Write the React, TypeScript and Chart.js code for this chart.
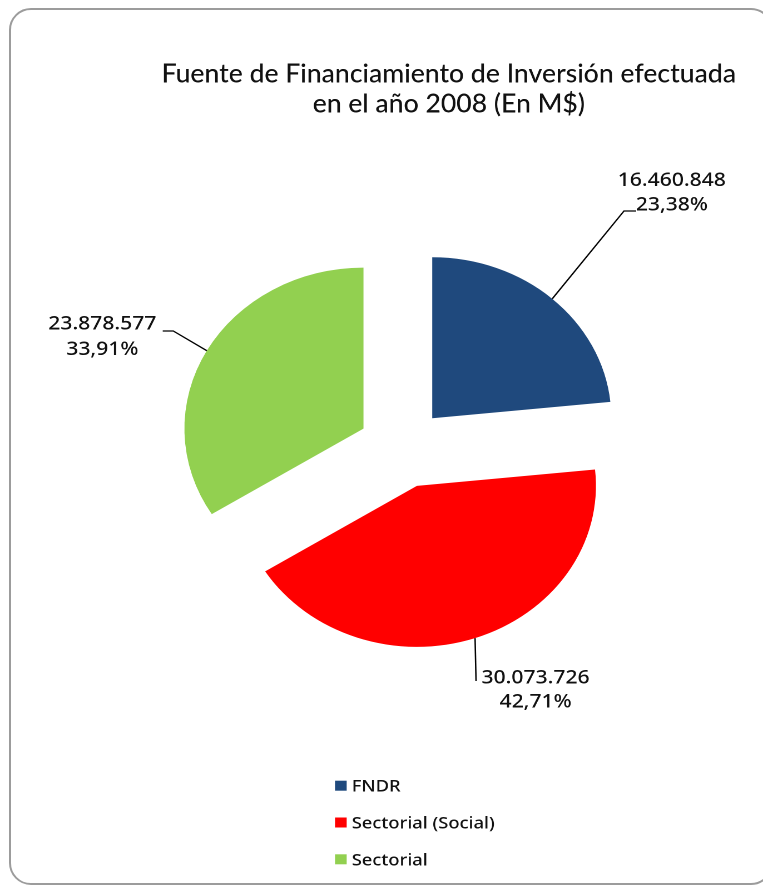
import React, { useEffect, useRef } from "react";
import { Chart, registerables } from "chart.js";

Chart.register(...registerables);

// ---- data ----
const categories = ["FNDR", "Sectorial (Social)", "Sectorial"];
const values = [16460848, 30073726, 23878577];
const titleLines = ["Fuente de Financiamiento de Inversión efectuada", "en el año 2008 (En M$)"];

// ---- style ----
const colors = ["#1F497D", "#FF0000", "#92D050"];
const CW = 686;
const CH = 886;
const SX = 763 / CW;
const EXPLODE = 40;
const PIE_RADIUS = 161;

// label placement (canvas px): text centre x, baselines, leader path after arc point
const labelLayout = [
  { x: 604, b1: 186, b2: 210.7, path: [[561, 211], [572, 211]] },
  { x: 481.5, b1: 683.3, b2: 707.7, path: [[428, 681]] },
  { x: 92, b1: 329.3, b2: 355, path: [[155.8, 331], [146.3, 331]] },
];

const fmtThousands = (v: number) => String(v).replace(/\B(?=(\d{3})+(?!\d))/g, ".");
const fmtPct = (v: number, total: number) => (v / total * 100).toFixed(2).replace(".", ",") + "%";

const explodePlugin = {
  id: "explode",
  afterDatasetsUpdate(chart: any) {
    const meta = chart.getDatasetMeta(0);
    const ca = chart.chartArea;
    const cx = (ca.left + ca.right) / 2;
    const cy = (ca.top + ca.bottom) / 2;
    meta.data.forEach((arc: any) => {
      const mid = (arc.startAngle + arc.endAngle) / 2;
      arc.x = cx + Math.cos(mid) * EXPLODE;
      arc.y = cy + Math.sin(mid) * EXPLODE;
    });
  },
};

const labelPlugin = {
  id: "sliceLabels",
  afterDatasetsDraw(chart: any) {
    const ctx = chart.ctx;
    const meta = chart.getDatasetMeta(0);
    const data = chart.data.datasets[0].data as number[];
    const total = data.reduce((a, b) => a + b, 0);
    ctx.save();
    meta.data.forEach((arc: any, i: number) => {
      const lay = labelLayout[i];
      const mid = (arc.startAngle + arc.endAngle) / 2;
      const px = arc.x + Math.cos(mid) * arc.outerRadius;
      const py = arc.y + Math.sin(mid) * arc.outerRadius;
      ctx.beginPath();
      ctx.moveTo(px, py);
      lay.path.forEach((p) => ctx.lineTo(p[0], p[1]));
      ctx.strokeStyle = "#000";
      ctx.lineWidth = 1.3;
      ctx.stroke();
      ctx.fillStyle = "#111";
      ctx.font = "500 19px 'Noto Sans'";
      ctx.textAlign = "center";
      ctx.textBaseline = "alphabetic";
      ctx.fillText(fmtThousands(data[i]), lay.x, lay.b1);
      ctx.fillText(fmtPct(data[i], total), lay.x, lay.b2);
    });
    ctx.restore();
  },
};

const titlePlugin = {
  id: "customTitle",
  afterDraw(chart: any) {
    const ctx = chart.ctx;
    ctx.save();
    ctx.font = "500 100px Lato";
    const w = ctx.measureText(titleLines[0]).width;
    const size = 100 * 517 / w;
    const sy = 19 / (0.72 * size);
    ctx.font = `500 ${size}px Lato`;
    ctx.fillStyle = "#111";
    ctx.textAlign = "center";
    ctx.textBaseline = "alphabetic";
    const baselines = [82.7, 112.7];
    titleLines.forEach((line, i) => {
      ctx.save();
      ctx.translate(403.5, baselines[i]);
      ctx.scale(1, sy);
      ctx.fillText(line, 0, 0);
      ctx.restore();
    });
    ctx.restore();
  },
};

const legendPlugin = {
  id: "customLegend",
  afterDraw(chart: any) {
    const ctx = chart.ctx;
    const labels = chart.data.labels as string[];
    const bg = chart.data.datasets[0].backgroundColor as string[];
    ctx.save();
    ctx.font = "500 16.5px 'Noto Sans'";
    ctx.textAlign = "left";
    ctx.textBaseline = "alphabetic";
    labels.forEach((lab, i) => {
      const cy = 785.7 + i * 36.8;
      ctx.fillStyle = bg[i];
      ctx.fillRect(301.2, cy - 5, 10.5, 10);
      ctx.fillStyle = "#111";
      ctx.fillText(lab, 316.2, cy + 6);
    });
    ctx.restore();
  },
};

export default function App() {
  const ref = useRef<HTMLCanvasElement>(null);
  useEffect(() => {
    const canvas = ref.current!;
    const chart = new Chart(canvas, {
      type: "pie",
      data: {
        labels: categories,
        datasets: [
          {
            data: values,
            backgroundColor: colors,
            borderWidth: 0,
            radius: PIE_RADIUS,
          } as any,
        ],
      },
      options: {
        responsive: false,
        animation: false,
        devicePixelRatio: 2,
        events: [],
        layout: { padding: { left: 40, right: 2.4, top: 100, bottom: 90 } },
        plugins: {
          legend: { display: false },
          title: { display: false },
          tooltip: { enabled: false },
        },
      } as any,
      plugins: [explodePlugin, labelPlugin, titlePlugin, legendPlugin],
    });
    return () => chart.destroy();
  }, []);

  return (
    <div style={{ position: "fixed", left: 0, top: 0, width: 763, height: 886, overflow: "hidden", background: "#fff" }}>
      <div
        style={{
          position: "absolute",
          left: 9,
          top: 8,
          width: 764,
          height: 877,
          border: "2px solid #9c9c9c",
          borderRadius: 22,
          boxSizing: "border-box",
        }}
      />
      <div style={{ position: "absolute", left: 0, top: 0, transform: `scaleX(${SX})`, transformOrigin: "0 0" }}>
        <canvas ref={ref} width={CW} height={CH} style={{ display: "block", width: CW, height: CH }} />
      </div>
    </div>
  );
}
